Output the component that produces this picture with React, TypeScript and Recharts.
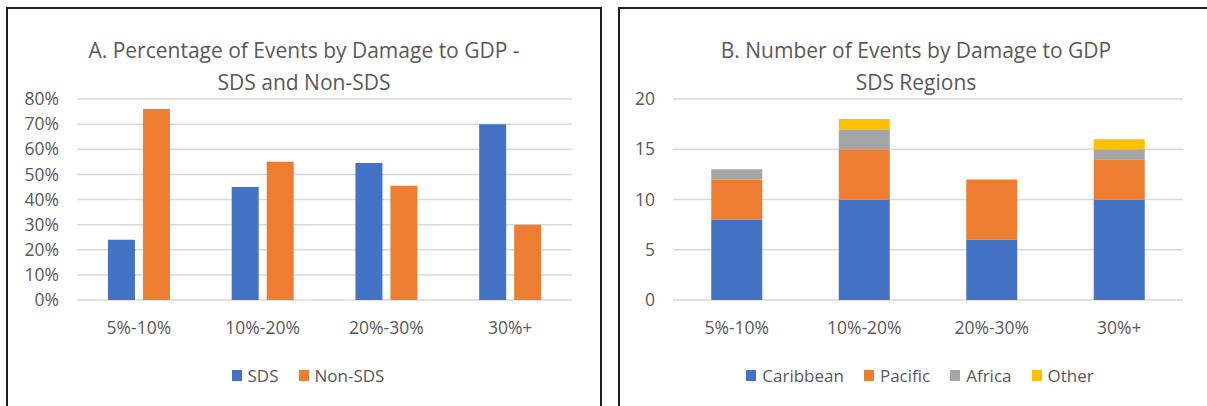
import React from 'react';
import { BarChart, Bar, XAxis, YAxis, CartesianGrid, Legend } from 'recharts';

const categories = ['5%-10%', '10%-20%', '20%-30%', '30%+'];

// Panel A: share of events (%) in each damage band
const sdsShare = [24, 45, 54.5, 70];
const nonSdsShare = [76, 55, 45.5, 30];
const percentTicks = [0, 10, 20, 30, 40, 50, 60, 70, 80];
const shareSeries = ['SDS', 'Non-SDS'];

// Panel B: SDS event counts by region
const caribbean = [8, 10, 6, 10];
const pacific = [4, 5, 6, 4];
const africa = [1, 2, 0, 1];
const other = [0, 1, 0, 1];
const countTicks = [0, 5, 10, 15, 20];
const regionSeries = ['Caribbean', 'Pacific', 'Africa', 'Other'];

const titleA = ['A. Percentage of Events by Damage to GDP -', 'SDS and Non-SDS'];
const titleB = ['B. Number of Events by Damage to GDP', 'SDS Regions'];

const shareData = categories.map((band, i) => ({
  band,
  SDS: sdsShare[i],
  'Non-SDS': nonSdsShare[i],
}));

const regionData = categories.map((band, i) => ({
  band,
  Caribbean: caribbean[i],
  Pacific: pacific[i],
  Africa: africa[i],
  Other: other[i],
}));

const FONT = '"Open Sans", "Noto Sans", sans-serif';
const TEXT = '#595959';
const GRID = '#D9D9D9';
const BLUE = '#4472C4';
const ORANGE = '#ED7D31';
const GREY = '#A5A5A5';
const GOLD = '#FFC000';

const tickStyle = { fill: TEXT, fontSize: 17.5, fontFamily: FONT };

// Square-swatch legend that keeps the series in drawing order
function SquareLegend(props: any) {
  const order: string[] = props.order || [];
  const items = [...(props.payload || [])].sort(
    (a: any, b: any) => order.indexOf(a.value) - order.indexOf(b.value)
  );
  return (
    <div
      style={{
        display: 'flex',
        justifyContent: 'center',
        alignItems: 'center',
        height: 20,
        paddingLeft: 8,
        fontFamily: FONT,
        fontSize: 17,
        color: TEXT,
      }}
    >
      {items.map((it: any, i: number) => (
        <div key={it.value} style={{ display: 'flex', alignItems: 'center', marginLeft: i ? 20 : 0 }}>
          <span style={{ width: 10, height: 11, background: it.color, marginRight: 6, display: 'inline-block' }} />
          <span>{it.value}</span>
        </div>
      ))}
    </div>
  );
}

function Panel({ left, lines, children }: { left: number; lines: string[]; children: React.ReactNode }) {
  return (
    <div
      style={{
        position: 'absolute',
        left,
        top: 7,
        width: 596,
        height: 420,
        border: '2px solid #1F1F1F',
        boxSizing: 'border-box',
        background: '#fff',
      }}
    >
      <div style={{ position: 'absolute', left: 0, top: 0 }}>{children}</div>
      <div
        style={{
          position: 'absolute',
          left: 0,
          top: 25,
          width: '100%',
          textAlign: 'center',
          fontFamily: FONT,
          fontSize: 21,
          lineHeight: '32px',
          color: TEXT,
        }}
      >
        {lines.map((l) => (
          <div key={l}>{l}</div>
        ))}
      </div>
    </div>
  );
}

export default function App() {
  return (
    <div
      style={{
        position: 'fixed',
        left: 0,
        top: 0,
        width: 1207,
        height: 406,
        overflow: 'hidden',
        background: '#fff',
      }}
    >
      <Panel left={6} lines={titleA}>
        <BarChart
          width={592}
          height={397}
          data={shareData}
          margin={{ top: 90, right: 28, bottom: 21, left: 9 }}
          barCategoryGap="25%"
          barGap={8}
        >
          <CartesianGrid vertical={false} stroke={GRID} strokeWidth={1.5} />
          <XAxis
            dataKey="band"
            axisLine={false}
            tickLine={false}
            tickSize={0}
            tickMargin={22}
            height={65}
            interval={0}
            tick={tickStyle}
          />
          <YAxis
            domain={[0, 80]}
            ticks={percentTicks}
            interval={0}
            tickFormatter={(v: number) => `${v}%`}
            axisLine={false}
            tickLine={false}
            tickSize={0}
            tickMargin={18}
            width={60}
            tick={tickStyle}
          />
          <Legend
            verticalAlign="bottom"
            content={<SquareLegend order={shareSeries} />}
            wrapperStyle={{ left: 0, width: 592 }}
          />
          <Bar dataKey="SDS" fill={BLUE} isAnimationActive={false} />
          <Bar dataKey="Non-SDS" fill={ORANGE} isAnimationActive={false} />
        </BarChart>
      </Panel>
      <Panel left={618} lines={titleB}>
        <BarChart
          width={592}
          height={397}
          data={regionData}
          margin={{ top: 90, right: 29, bottom: 21, left: 8 }}
          barCategoryGap="30%"
        >
          <CartesianGrid vertical={false} stroke={GRID} strokeWidth={1.5} />
          <XAxis
            dataKey="band"
            axisLine={false}
            tickLine={false}
            tickSize={0}
            tickMargin={22}
            height={65}
            interval={0}
            tick={tickStyle}
          />
          <YAxis
            domain={[0, 20]}
            ticks={countTicks}
            interval={0}
            axisLine={false}
            tickLine={false}
            tickSize={0}
            tickMargin={18}
            width={45}
            tick={tickStyle}
          />
          <Legend
            verticalAlign="bottom"
            content={<SquareLegend order={regionSeries} />}
            wrapperStyle={{ left: 0, width: 592 }}
          />
          <Bar dataKey="Caribbean" stackId="r" fill={BLUE} isAnimationActive={false} />
          <Bar dataKey="Pacific" stackId="r" fill={ORANGE} isAnimationActive={false} />
          <Bar dataKey="Africa" stackId="r" fill={GREY} isAnimationActive={false} />
          <Bar dataKey="Other" stackId="r" fill={GOLD} isAnimationActive={false} />
        </BarChart>
      </Panel>
    </div>
  );
}
